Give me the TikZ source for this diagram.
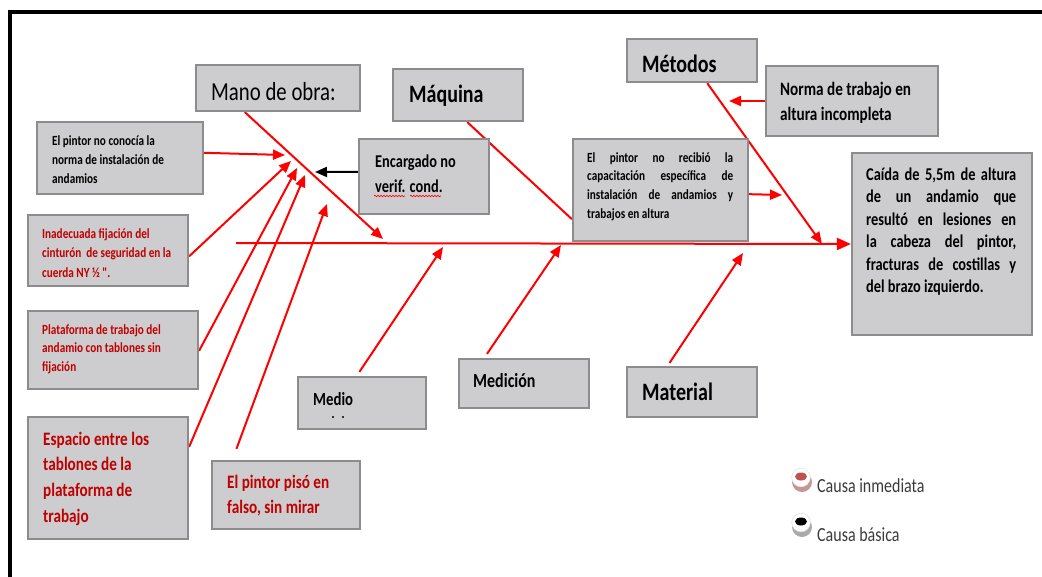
\documentclass[tikz,border=0pt]{standalone}
\usepackage{fontspec}
\usetikzlibrary{arrows.meta,calc,fit,decorations.pathmorphing}
\newfontfamily\calfont[FakeStretch=0.8]{Carlito}
\newcommand\fsz[2]{\fontsize{#1pt}{#2pt}\selectfont}
\definecolor{boxfill}{HTML}{CDCDCF}
\definecolor{boxline}{HTML}{8C8C8C}
\definecolor{causered}{HTML}{C00000}
\definecolor{bonered}{HTML}{FF0000}
\definecolor{legendgray}{HTML}{3A3A3A}
\pgfdeclarelayer{bg}
\pgfsetlayers{bg,main}

\tikzset{
  box/.style={draw=boxline, fill=boxfill, line width=2.2pt, inner sep=0pt},
  bone/.style={draw=bonered, line width=2pt},
  causearrow/.style={bone, -{Triangle[length=12pt,width=10pt]}},
  lbl/.style={anchor=base west, inner sep=0pt, font=\calfont},
  redlbl/.style={lbl, text=causered},
  spell/.style={draw=red, line width=0.6pt, decorate,
    decoration={snake, amplitude=0.8pt, segment length=3pt}},
}

\begin{document}
\begin{tikzpicture}[x=1pt,y=-1pt]
\useasboundingbox (0,0) rectangle (1042,576);
\clip (0,0) rectangle (1042,576);

% outer frame
\draw[line width=4pt] (1050,12) -- (9.5,12) -- (9.5,590);

% boxes
\node[box, fit={(196,65) (360,111)}]   (mano) {};
\node[box, fit={(393,69) (523,121)}]   (maquina) {};
\node[box, fit={(627,39) (757,82)}]    (metodos) {};
\node[box, fit={(766,66) (938,136)}]   (norma) {};
\node[box, fit={(573,139) (748,241)}]  (recibio) {};
\node[box, fit={(852,153) (1032,335)}] (caida) {};
\node[box, fit={(37,122) (203,194)}]   (conocia) {};
\node[box, fit={(359,139) (489,214)}]  (encargado) {};
\node[box, fit={(28,215) (188,286)}]   (inadecuada) {};
\node[box, fit={(28,311) (198,389)}]   (plataforma) {};
\node[box, fit={(28,417) (188,539)}]   (espacio) {};
\node[box, fit={(212,461) (360,529)}]  (piso) {};
\node[box, fit={(298,377) (426,429)}]  (medio) {};
\node[box, fit={(459,359) (589,408)}]  (medicion) {};
\node[box, fit={(627,367) (757,417)}]  (material) {};

% arrow tips on the spine and on the bones
\coordinate (spineL) at (236,243);
\coordinate (tipMano) at (383,239);
\coordinate (tipMetodos) at (822,244);
\coordinate (tipMedio) at (443,247);
\coordinate (tipMedicion) at (561,245);
\coordinate (tipMaterial) at (743,253);
\coordinate (tipNorma) at (729,101);
\coordinate (tipRecibio) at (782,195);
\coordinate (tipEncargado) at (315,172);
\coordinate (tipConocia) at (285,155);
\coordinate (tipInadecuada) at (291,161);
\coordinate (tipPlataforma) at (297,168);
\coordinate (tipEspacio) at (305,175);
\coordinate (tipPiso) at (327,204);

\begin{pgfonlayer}{bg}
  % spine
  \draw[bone, -{Triangle[length=14pt,width=12pt]}] (spineL) -- (caida.west);
  % main bones
  \draw[causearrow] ($(mano.south west)!0.30!(mano.south east)$) -- (tipMano);
  \draw[bone] ($(maquina.south west)!0.57!(maquina.south east)$) -- ($(recibio.north west)!0.78!(recibio.south west)$);
  \draw[causearrow] ($(metodos.south west)!0.615!(metodos.south east)$) -- (tipMetodos);
  \draw[causearrow] ($(medio.north west)!0.48!(medio.north east)+(0,-4)$) -- (tipMedio);
  \draw[causearrow] ($(medicion.north west)!0.22!(medicion.north east)+(0,-4)$) -- (tipMedicion);
  \draw[causearrow] ($(material.north west)!0.33!(material.north east)+(0,-3)$) -- (tipMaterial);
  % sub-causes
  \draw[causearrow] (norma.west) -- (tipNorma);
  \draw[causearrow] ($(recibio.north east)!0.54!(recibio.south east)$) -- (tipRecibio);
  \draw[line width=2pt, -{Triangle[length=12pt,width=10pt]}] ($(encargado.north west)!0.44!(encargado.south west)$) -- (tipEncargado);
  \draw[causearrow] ($(conocia.north east)!0.43!(conocia.south east)$) -- (tipConocia);
  \draw[causearrow] ($(inadecuada.north east)!0.58!(inadecuada.south east)$) -- (tipInadecuada);
  \draw[causearrow] ($(plataforma.north east)!0.51!(plataforma.south east)$) -- (tipPlataforma);
  \draw[causearrow] ($(espacio.north east)!0.25!(espacio.south east)$) -- (tipEspacio);
  \draw[causearrow] ($(piso.north west)!0.17!(piso.north east)+(0,-11)$) -- (tipPiso);
\end{pgfonlayer}

% category labels
\node[lbl, font=\calfont\fsz{26}{30}] (mano-t) at (211,100) {Mano de obra:};
\node[lbl, font=\calfont\bfseries\fsz{25}{30}] (maquina-t) at (409,102) {Máquina};
\node[lbl, font=\calfont\bfseries\fsz{25}{30}] (metodos-t) at (642,72) {Métodos};
\node[lbl, font=\calfont\bfseries\fsz{25}{30}] (material-t) at (642,400) {Material};
\node[lbl, font=\calfont\bfseries\fsz{20}{24}] (medicion-t) at (473,387) {Medición};
\node[lbl, font=\calfont\bfseries\fsz{18.5}{22}] (medio-t) at (313,405) {Medio};
% cut-off second line under "Medio"
\fill (333,417) circle (1.1) (343,417) circle (1.1);

% black causes
\node[lbl, font=\calfont\bfseries\fsz{14}{19}] (conocia-t) at (52,145)
  {\parbox[t]{140pt}{El pintor no conocía la\\norma de instalación de\\andamios}};
\node[lbl, font=\calfont\bfseries\fsz{18}{25}] (encargado-t) at (375,167)
  {\parbox[t]{110pt}{Encargado no\\verif. cond.}};
\draw[spell] (374,196) -- (405,196);
\draw[spell] (410,196) -- (441,196);
\node[lbl, font=\calfont\bfseries\fsz{19}{25}] (norma-t) at (780,95)
  {\parbox[t]{150pt}{Norma de trabajo en\\altura incompleta}};
\node[lbl, font=\calfont\bfseries\fsz{14}{18.7}] (recibio-t) at (587,162)
  {\parbox[t]{146pt}{\hyphenpenalty=10000\exhyphenpenalty=10000
   El pintor no recibió la\linebreak capacitación específica de\linebreak
   instalación de andamios y\linebreak trabajos en altura}};
\node[lbl, font=\calfont\bfseries\fsz{18}{22.5}] (caida-t) at (866,180)
  {\parbox[t]{150pt}{\hyphenpenalty=10000\exhyphenpenalty=10000
   Caída de 5,5m de altura\linebreak de un andamio que\linebreak
   resultó en lesiones en\linebreak la cabeza del pintor,\linebreak
   fracturas de costillas y\linebreak del brazo izquierdo.}};

% red causes
\node[redlbl, font=\calfont\bfseries\fsz{14}{19.5}] (inadecuada-t) at (42,238)
  {\parbox[t]{140pt}{Inadecuada fijación del\\cinturón~ de seguridad en la\\cuerda NY ½ ".}};
\node[redlbl, font=\calfont\bfseries\fsz{14}{18.5}] (plataforma-t) at (42,334)
  {\parbox[t]{150pt}{Plataforma de trabajo del\\andamio con tablones sin\\fijación}};
\node[redlbl, font=\calfont\bfseries\fsz{19}{25.7}] (espacio-t) at (43,445)
  {\parbox[t]{140pt}{Espacio entre los\\tablones de la\\plataforma de\\trabajo}};
\node[redlbl, font=\calfont\bfseries\fsz{19}{25}] (piso-t) at (227,488)
  {\parbox[t]{130pt}{El pintor pisó en\\falso, sin mirar}};

% legend
\fill[color={rgb,255:red,196;green,150;blue,150}] (802,482) circle (10);
\fill[white] (801,477.5) circle (9.3);
\draw[color={rgb,255:red,225;green,225;blue,225}, line width=0.6pt] (801,477.5) circle (9.3);
\fill[color={rgb,255:red,192;green,80;blue,77}] (801,476.5) ellipse (6 and 4);
\node[lbl, text=legendgray, font=\calfont\fsz{20}{24}] (inmediata-t) at (817,492) {Causa inmediata};

\fill[color={rgb,255:red,170;green,170;blue,170}] (802,527) circle (10);
\fill[white] (801,522.5) circle (9.3);
\draw[color={rgb,255:red,225;green,225;blue,225}, line width=0.6pt] (801,522.5) circle (9.3);
\fill[black] (801,521.5) ellipse (6 and 4);
\node[lbl, text=legendgray, font=\calfont\fsz{20}{24}] (basica-t) at (817,541) {Causa básica};
\end{tikzpicture}
\end{document}
